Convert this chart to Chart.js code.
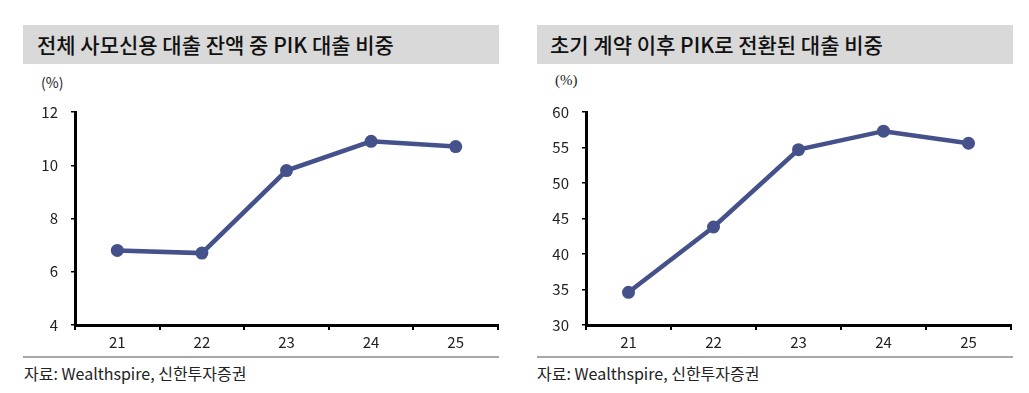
<!DOCTYPE html>
<html>
<head>
<meta charset="utf-8">
<script src="https://cdn.jsdelivr.net/npm/chart.js@4"></script>
<style>
  body { margin: 0; width: 1029px; height: 393px; background: #fff; position: relative; overflow: hidden;
         font-family: "Noto Sans CJK KR", "Noto Sans", sans-serif; }
  .title { position: absolute; top: 25px; height: 39px; background: #d9d9d9; color: #111;
           font-size: 21px; font-weight: 500; line-height: 39px; box-sizing: border-box; }
  .unit { position: absolute; top: 72px; font-size: 14px; color: #222; }
  .rule { position: absolute; top: 356px; height: 2px; background: #a6a6a6; }
  .source { position: absolute; top: 362px; font-size: 16px; color: #222; line-height: 22px; }
  .box { position: absolute; top: 90px; width: 510px; height: 265px; }
</style>
</head>
<body>
<div class="title" style="left:23px;width:476px;padding-left:14px">전체 사모신용 대출 잔액 중 PIK 대출 비중</div>
<div class="unit" style="left:41px">(%)</div>
<div class="box" style="left:0"><canvas id="left"></canvas></div>
<div class="rule" style="left:23px;width:476px"></div>
<div class="source" style="left:24px">자료: Wealthspire, 신한투자증권</div>

<div class="title" style="left:537px;width:476px;padding-left:13px">초기 계약 이후 PIK로 전환된 대출 비중</div>
<div class="unit" style="left:555px;font-family:'Liberation Serif',serif;font-size:15px">(%)</div>
<div class="box" style="left:511px"><canvas id="right"></canvas></div>
<div class="rule" style="left:537px;width:476px"></div>
<div class="source" style="left:537px">자료: Wealthspire, 신한투자증권</div>

<script>
const years = ['21', '22', '23', '24', '25'];
const pikShare = [6.8, 6.7, 9.8, 10.9, 10.7];
const convertedShare = [34.6, 43.8, 54.7, 57.3, 55.6];
const leftTicks = [4, 6, 8, 10, 12];
const rightTicks = [30, 35, 40, 45, 50, 55, 60];

const lineColor = '#45518b';
const tickFont = { family: '"Noto Sans CJK KR", "Noto Sans", sans-serif', size: 15 };

function drawChart(id, values, ticks, padRight) {
  const step = ticks[1] - ticks[0];
  new Chart(document.getElementById(id), {
    type: 'line',
    data: {
      labels: years,
      datasets: [{
        data: values,
        borderColor: lineColor,
        backgroundColor: lineColor,
        borderWidth: 4.5,
        pointRadius: 6.5,
        pointHoverRadius: 6.5,
        pointBorderWidth: 0,
        tension: 0
      }]
    },
    options: {
      responsive: true,
      maintainAspectRatio: false,
      animation: false,
      layout: { padding: { top: 19, right: padRight, bottom: 0, left: 0 } },
      plugins: { legend: { display: false }, tooltip: { enabled: false } },
      scales: {
        x: {
          offset: true,
          grid: { offset: true, drawOnChartArea: false, drawTicks: true, tickLength: 5, color: '#000', lineWidth: 2 },
          border: { display: true, color: '#000', width: 3 },
          ticks: { color: '#222', font: tickFont, padding: 3, maxRotation: 0 },
          afterFit: s => { s.height = 30; }
        },
        y: {
          min: ticks[0],
          max: ticks[ticks.length - 1],
          ticks: { stepSize: step, color: '#222', font: tickFont, padding: 13 },
          grid: { drawOnChartArea: false, drawTicks: true, tickLength: 4, color: '#000', lineWidth: 1.5 },
          border: { display: true, color: '#000', width: 3 },
          afterFit: s => { s.width = 75; }
        }
      }
    }
  });
}

drawChart('left', pikShare, leftTicks, 12);
drawChart('right', convertedShare, rightTicks, 10);
</script>
</body>
</html>
